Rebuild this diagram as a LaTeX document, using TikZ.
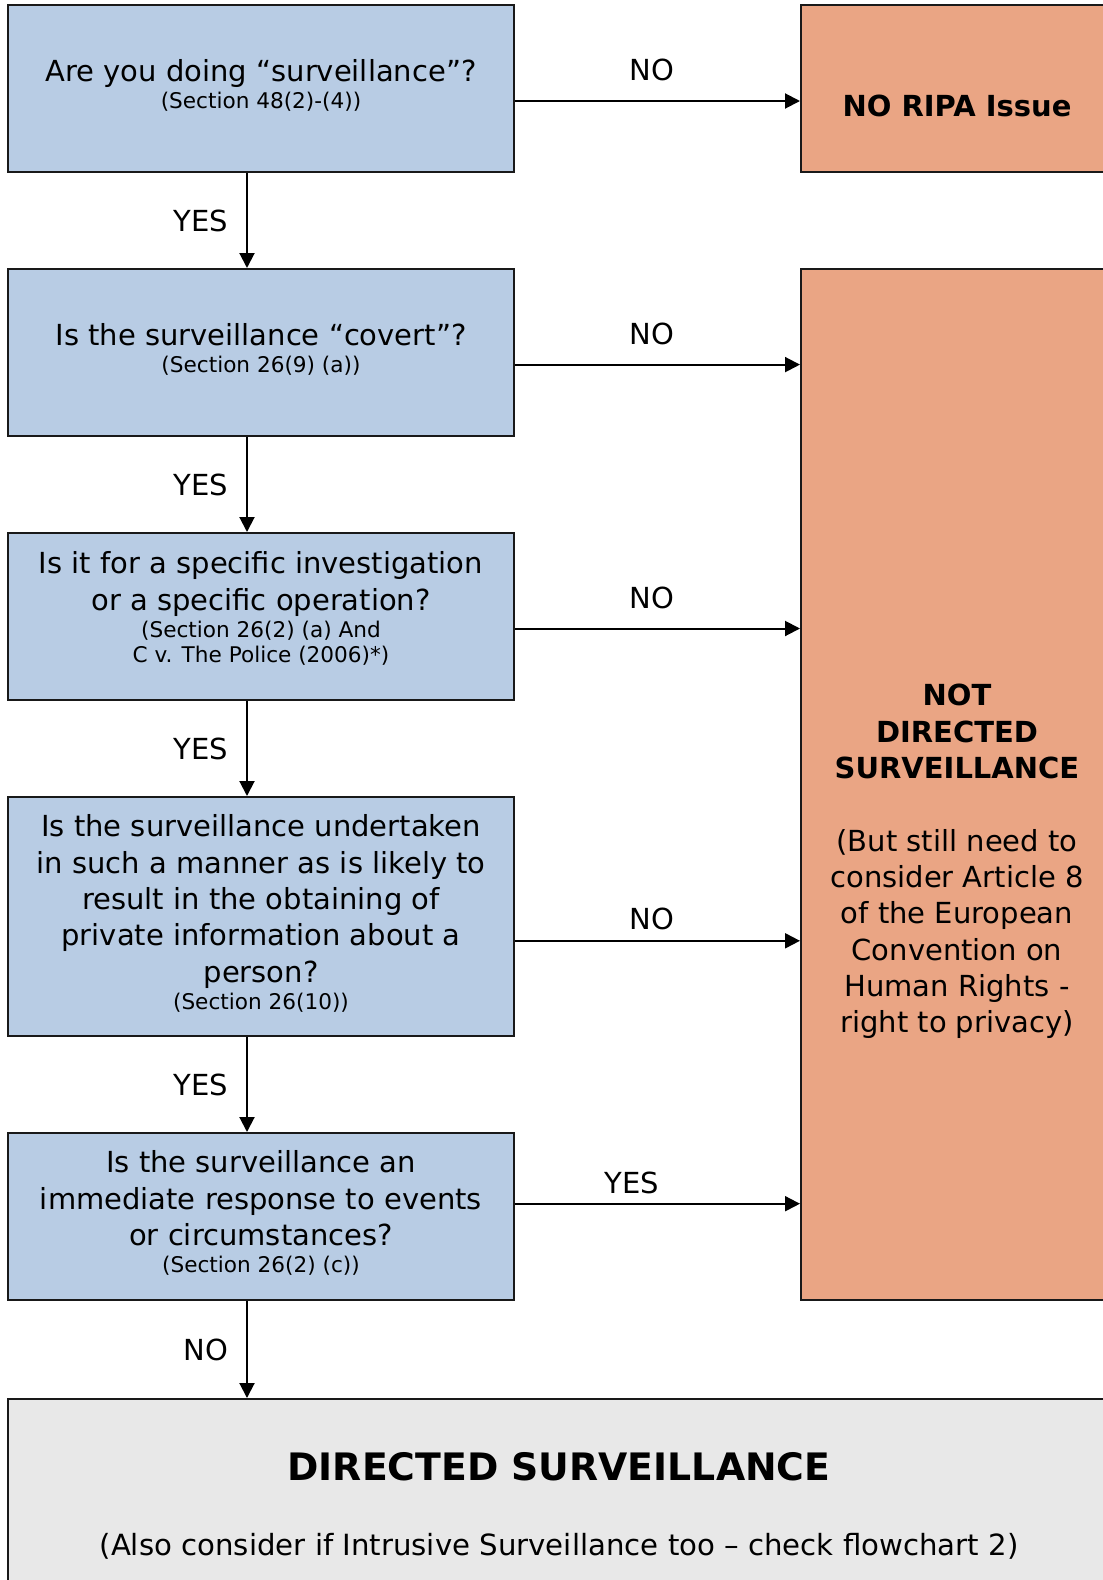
\documentclass[tikz,border=0pt]{standalone}
\usepackage{fontspec}
\setmainfont{DejaVu Sans}
\usetikzlibrary{arrows.meta}

\definecolor{askblue}{HTML}{B8CCE4}
\definecolor{exitorange}{HTML}{EAA584}
\definecolor{endgray}{HTML}{E8E8E8}
\newcommand{\sectfont}{\fontsize{10.8}{12.5}\selectfont}
\newcommand{\lift}[1]{\rule[-#1]{0pt}{#1}}

\begin{document}
\begin{tikzpicture}[x=0.5pt, y=-0.5pt,
    question/.style={rectangle, draw=black!90, line width=1pt, fill=askblue, minimum width=253pt, minimum height=83.5pt, align=center, inner sep=0pt, font=\fontsize{14.5}{18.15}\selectfont},
    outcome/.style={rectangle, draw=black!90, line width=1pt, fill=exitorange, minimum width=156pt, inner sep=0pt},
    flow/.style={-{Triangle[length=7.5pt, width=7.5pt]}, line width=1pt},
    answer/.style={inner sep=0pt, font=\fontsize{14.5}{18.15}\selectfont}]
    \useasboundingbox (0,0) rectangle (1103,1580);
    \clip (0,0) rectangle (1103,1580);

    % Question boxes
    \node[question] (q1) at (261, 88.5) {
        Are you doing “surveillance”?\\[-4.6pt]
        \sectfont (Section 48(2)-(4))\lift{4.4pt}
    };
    \node[question] (q2) at (261, 352.5) {
        Is the surveillance “covert”?\\[-4.6pt]
        \sectfont (Section 26(9) (a))\lift{4.4pt}
    };
    \node[question] (q3) at (261, 616.5) {
        Is it for a specific investigation\\
        or a specific operation?\\[-4.6pt]
        \sectfont (Section 26(2) (a) And\\[-5.6pt]
        \sectfont C v. The Police (2006)*)\lift{9.4pt}
    };
    \node[question, minimum height=119.5pt] (q4) at (261, 916.5) {
        Is the surveillance undertaken\\
        in such a manner as is likely to\\
        result in the obtaining of\\
        private information about a\\
        person?\\[-4.6pt]
        \sectfont (Section 26(10))\lift{4.4pt}
    };
    \node[question] (q5) at (261, 1216.5) {
        Is the surveillance an\\
        immediate response to events\\
        or circumstances?\\[-4.6pt]
        \sectfont (Section 26(2) (c))\lift{4.9pt}
    };

    % Outcome boxes
    \node[outcome, minimum height=83.5pt,
        label={[yshift=-8.5pt, font=\fontsize{14.5}{18.15}\selectfont\bfseries]center:NO RIPA Issue}] (ripa) at (957, 88.5) {};
    \node[outcome, minimum height=515.5pt,
        label={[yshift=-38.5pt, align=center, font=\fontsize{14.5}{18.15}\selectfont]center:{\bfseries NOT\\\bfseries DIRECTED\\\bfseries SURVEILLANCE\\[18.15pt]
        (But still need to\\consider Article 8\\of the European\\Convention on\\Human Rights -\\right to privacy)}}] (nds) at (957, 784.5) {};

    % Final result
    \node[rectangle, draw=black!90, line width=1pt, fill=endgray, minimum width=551pt, minimum height=107pt, align=center, font=\fontsize{14.6}{18.15}\selectfont] (ds) at (559, 1506) {
        {\fontsize{18.9}{22}\selectfont\bfseries DIRECTED SURVEILLANCE}\\[19pt]
        (Also consider if Intrusive Surveillance too – check flowchart 2)
    };

    % Arrows
    \coordinate (spine) at (247, 0);
    \coordinate (row1) at (0, 101);
    \coordinate (row2) at (0, 364.6);
    \coordinate (row3) at (0, 628.5);
    \coordinate (row4) at (0, 940.8);
    \coordinate (row5) at (0, 1203.7);

    \draw[flow] (q1.south -| spine) -- node[answer, left=9pt] {YES} (q2.north -| spine);
    \draw[flow] (q2.south -| spine) -- node[answer, left=9pt] {YES} (q3.north -| spine);
    \draw[flow] (q3.south -| spine) -- node[answer, left=9pt] {YES} (q4.north -| spine);
    \draw[flow] (q4.south -| spine) -- node[answer, left=9pt] {YES} (q5.north -| spine);
    \draw[flow] (q5.south -| spine) -- node[answer, left=9pt] {NO} (ds.north -| spine);

    \draw[flow] (q1.east |- row1) -- node[answer, above=9.5pt, pos=0.48] {NO} (ripa.west |- row1);
    \draw[flow] (q2.east |- row2) -- node[answer, above=9.5pt, pos=0.48] {NO} (nds.west |- row2);
    \draw[flow] (q3.east |- row3) -- node[answer, above=9.5pt, pos=0.48] {NO} (nds.west |- row3);
    \draw[flow] (q4.east |- row4) -- node[answer, above=4.8pt, pos=0.48] {NO} (nds.west |- row4);
    \draw[flow] (q5.east |- row5) -- node[answer, above=4.3pt, pos=0.41] {YES} (nds.west |- row5);
\end{tikzpicture}
\end{document}
